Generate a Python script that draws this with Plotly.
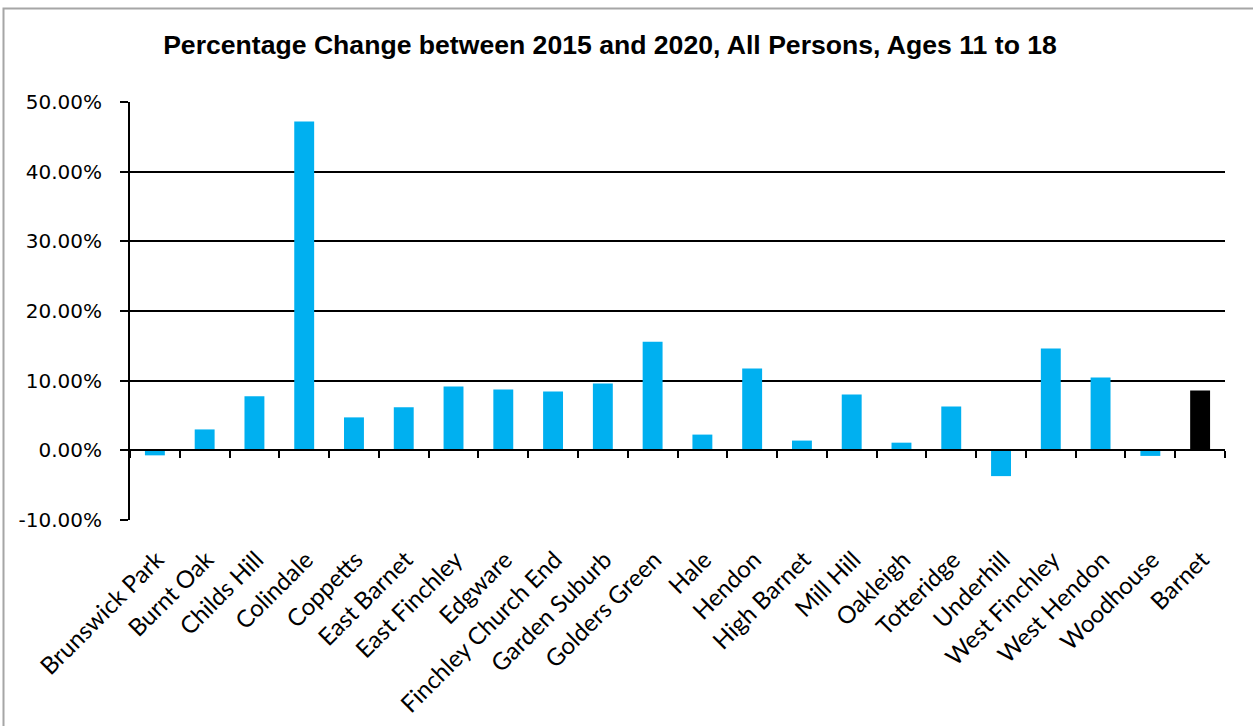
import plotly.graph_objects as go

# Ward-level percentage change, ages 11 to 18 (2015 -> 2020)
wards = [
    "Brunswick Park", "Burnt Oak", "Childs Hill", "Colindale", "Coppetts",
    "East Barnet", "East Finchley", "Edgware", "Finchley Church End",
    "Garden Suburb", "Golders Green", "Hale", "Hendon", "High Barnet",
    "Mill Hill", "Oakleigh", "Totteridge", "Underhill", "West Finchley",
    "West Hendon", "Woodhouse", "Barnet",
]
pct_change = [
    -0.72, 3.0, 7.75, 47.2, 4.73, 6.17, 9.18, 8.75, 8.45, 9.6, 15.6,
    2.26, 11.75, 1.4, 8.0, 1.1, 6.3, -3.7, 14.6, 10.45, -0.8, 8.6,
]
ward_colour = "#00B0F0"
borough_colour = "#000000"
colours = [borough_colour if w == "Barnet" else ward_colour for w in wards]

y_ticks = [-10, 0, 10, 20, 30, 40, 50]
y_tick_text = [f"{v:.2f}%" for v in y_ticks]

W, H = 1253, 726
ML, MR, MT, MB = 130, 28, 102, 206
y_min, y_max = -10, 50

fig = go.Figure()
fig.add_trace(go.Bar(
    x=wards, y=pct_change, marker=dict(color=colours, line=dict(width=0)),
    width=0.4, showlegend=False, hoverinfo="x+y",
))
# companion trace that carries the category axis drawn along the zero line
fig.add_trace(go.Scatter(
    x=wards, y=pct_change, xaxis="x2", mode="markers",
    marker=dict(opacity=0), showlegend=False, hoverinfo="skip",
))

zero_pos = (0 - y_min) / (y_max - y_min)

fig.update_layout(
    width=W, height=H,
    margin=dict(l=ML, r=MR, t=MT, b=MB),
    paper_bgcolor="white", plot_bgcolor="white",
    title=dict(
        text="<b>Percentage Change between 2015 and 2020, All Persons, Ages 11 to 18</b>",
        x=610 / W, xanchor="center", xref="container",
        y=1 - 45 / H, yanchor="middle", yref="container",
        font=dict(family="Liberation Sans, Arial", size=26.6, color="black"),
    ),
    xaxis=dict(
        type="category", categoryorder="array", categoryarray=wards,
        range=[-0.5, len(wards) - 0.5], automargin=False,
        showline=False, showgrid=False, zeroline=False, ticks="",
        tickangle=-45, ticklabelstandoff=20, ticklabelshift=2,
        tickfont=dict(family="Lato, Carlito, Calibri", size=24, color="black"),
    ),
    xaxis2=dict(
        type="category", categoryorder="array", categoryarray=wards,
        range=[-0.5, len(wards) - 0.5],
        overlaying="x", anchor="free", position=zero_pos,
        showline=True, linecolor="black", linewidth=2,
        ticks="outside", tickson="boundaries", ticklen=7, tickwidth=2,
        tickcolor="black", showticklabels=False, showgrid=False, zeroline=False,
    ),
    yaxis=dict(
        range=[y_min, y_max], tickvals=y_ticks, ticktext=y_tick_text,
        automargin=False,
        showgrid=True, gridcolor="black", gridwidth=1.5,
        zeroline=False, showline=True, linecolor="black", linewidth=2,
        ticks="outside", ticklen=8, tickwidth=1.5, tickcolor="black",
        ticklabelstandoff=14,
        tickfont=dict(family="DejaVu Sans", size=20, color="black"),
    ),
)

# outer chart frame (left and top edges)
plot_w = W - ML - MR
plot_h = H - MT - MB
def px_x(px):
    return (px - ML) / plot_w
def px_y(py):
    return (H - MB - py) / plot_h

fx0, fy_top, fy_bot, fx_right = px_x(3.5), px_y(8.5), px_y(H + 5), px_x(W + 5)
fig.add_shape(
    type="path", xref="paper", yref="paper",
    path=f"M {fx0},{fy_bot} L {fx0},{fy_top} L {fx_right},{fy_top}",
    line=dict(color="#A6A6A6", width=2), layer="above",
)

fig.write_html("out.html")
